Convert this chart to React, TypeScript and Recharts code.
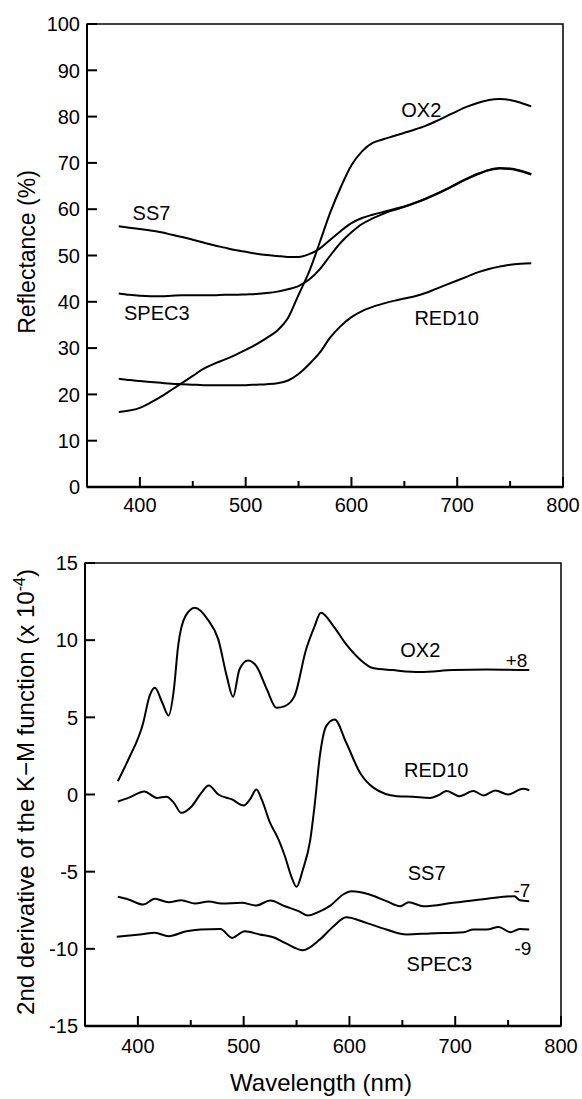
import React from 'react';
import { LineChart, Line, XAxis, YAxis, ReferenceArea, ReferenceDot } from 'recharts';

const FONT = "'Liberation Sans', Arial, Helvetica, sans-serif";

// Top panel: reflectance (%), read every 10 nm
const waveTop = [
  380, 390, 400, 410, 420, 430, 440, 450, 460, 470, 480, 490, 500, 510, 520, 530, 540, 550, 560, 570,
  580, 590, 600, 610, 620, 630, 640, 650, 660, 670, 680, 690, 700, 710, 720, 730, 740, 750, 760, 770,
];
const ox2Refl = [
  16.2, 16.5, 17.1, 18.2, 19.5, 21.0, 22.5, 24.0, 25.5, 26.6, 27.5, 28.5, 29.6, 30.8, 32.2, 33.8, 36.5, 41.5, 46.5, 52.8,
  59.3, 64.8, 69.5, 72.5, 74.3, 75.1, 75.8, 76.5, 77.2, 78.0, 79.0, 80.1, 81.2, 82.2, 83.0, 83.6, 83.8, 83.6, 83.0, 82.2,
];
const ss7Refl = [
  56.3, 56.0, 55.7, 55.4, 55.0, 54.5, 54.0, 53.4, 52.8, 52.2, 51.7, 51.2, 50.8, 50.4, 50.1, 49.9, 49.7, 49.7, 50.3, 51.5,
  53.4, 55.3, 57.0, 58.1, 58.8, 59.4, 60.0, 60.6, 61.4, 62.3, 63.3, 64.4, 65.6, 66.7, 67.7, 68.5, 68.9, 68.8, 68.3, 67.6,
];
const spec3Refl = [
  41.8, 41.5, 41.3, 41.2, 41.2, 41.3, 41.4, 41.4, 41.4, 41.4, 41.5, 41.5, 41.6, 41.7, 41.9, 42.2, 42.7, 43.4, 44.8, 47.0,
  50.0, 52.8, 55.0, 56.8, 58.0, 59.0, 59.8, 60.5, 61.3, 62.2, 63.2, 64.3, 65.5, 66.6, 67.6, 68.4, 68.8, 68.7, 68.2, 67.5,
];
const red10Refl = [
  23.4, 23.1, 22.9, 22.7, 22.5, 22.3, 22.2, 22.1, 22.0, 22.0, 22.0, 22.0, 22.0, 22.1, 22.2, 22.4, 23.0, 24.4, 26.5, 29.0,
  32.3, 34.8, 36.7, 38.0, 38.9, 39.6, 40.2, 40.7, 41.2, 41.9, 42.8, 43.7, 44.6, 45.5, 46.4, 47.1, 47.6, 48.0, 48.2, 48.3,
];

// Bottom panel: 2nd derivative of K-M (x 1e-4), offset curves, read at turning points
const ox2DerWave = [381, 391, 405, 411, 416, 423, 429, 434, 438, 445, 454, 466, 476, 484, 490, 496, 504, 512, 522, 531, 539, 548, 559, 567, 573, 585, 597, 610, 622, 641, 667, 698, 730, 770];
const ox2Der = [0.86, 2.27, 4.64, 6.37, 6.91, 5.96, 5.12, 6.8, 9.6, 11.56, 12.1, 11.34, 10.05, 7.67, 6.33, 8.1, 8.68, 8.32, 6.8, 5.62, 5.73, 6.37, 9.4, 10.9, 11.78, 10.9, 9.72, 8.75, 8.2, 8.06, 7.93, 8.06, 8.1, 8.06];

const red10DerWave = [381, 391, 406, 418, 427, 434, 441, 451, 460, 467, 476, 489, 500, 506, 512, 517, 525, 533, 539, 545, 550, 556, 563, 567, 572, 578, 586, 597, 610, 623, 645, 660, 676, 684, 692, 704, 717, 727, 738, 750, 764, 770];
const red10Der = [-0.45, -0.22, 0.2, -0.22, -0.15, -0.54, -1.19, -0.76, 0.11, 0.58, 0.0, -0.32, -0.71, -0.32, 0.32, -0.32, -1.84, -2.92, -4.0, -5.3, -5.98, -4.86, -2.92, -0.76, 2.48, 4.43, 4.86, 3.35, 1.41, 0.43, -0.11, -0.15, -0.22, -0.05, 0.22, -0.11, 0.22, -0.06, 0.26, 0.0, 0.37, 0.28];

const ss7DerWave = [381, 391, 405, 416, 429, 441, 454, 467, 479, 498, 512, 525, 539, 552, 561, 571, 582, 594, 602, 619, 635, 648, 656, 670, 698, 730, 756, 761, 770];
const ss7Der = [-6.63, -6.8, -7.13, -6.76, -6.98, -6.85, -7.06, -6.93, -7.06, -7.02, -7.19, -6.87, -7.24, -7.56, -7.84, -7.6, -7.2, -6.48, -6.27, -6.48, -6.91, -7.24, -6.98, -7.24, -7.02, -6.76, -6.59, -6.85, -6.91];

const spec3DerWave = [380, 402, 416, 429, 446, 459, 478, 489, 501, 515, 528, 540, 556, 572, 585, 597, 616, 635, 654, 676, 708, 717, 730, 741, 752, 761, 770];
const spec3Der = [-9.22, -9.07, -8.96, -9.18, -8.86, -8.75, -8.71, -9.29, -8.86, -9.07, -9.25, -9.65, -10.09, -9.4, -8.53, -7.95, -8.32, -8.75, -9.07, -9.0, -8.92, -8.75, -8.75, -8.58, -8.92, -8.71, -8.75];

const xTicks = [400, 450, 500, 550, 600, 650, 700, 750, 800];
const reflTicks = [0, 10, 20, 30, 40, 50, 60, 70, 80, 90, 100];
const derTicks = [-15, -10, -5, 0, 5, 10, 15];

// curve names placed in data coordinates
const topNotes = [
  { text: 'OX2', x: 666, y: 81.5 },
  { text: 'SS7', x: 411, y: 59.2 },
  { text: 'SPEC3', x: 416, y: 37.7 },
  { text: 'RED10', x: 690, y: 36.6 },
];
const bottomNotes = [
  { text: 'OX2', x: 667, y: 9.4 },
  { text: '+8', x: 758, y: 8.7 },
  { text: 'RED10', x: 682, y: 1.6 },
  { text: 'SS7', x: 673, y: -5.1 },
  { text: '-7', x: 763, y: -6.2 },
  { text: 'SPEC3', x: 685, y: -11.0 },
  { text: '-9', x: 764, y: -9.95 },
];

const pts = (xs: number[], ys: number[]) => xs.map((x, i) => ({ x, y: ys[i] }));

function XTick(props: any) {
  const { x, y, payload, gap } = props;
  const major = payload.value % 100 === 0;
  return (
    <g>
      <line x1={x} y1={y} x2={x} y2={y - (major ? 10 : 6)} stroke="#000" strokeWidth={2} />
      {major && (
        <text x={x} y={y + gap} textAnchor="middle" fontSize={20} fontFamily={FONT} fill="#000">
          {payload.value}
        </text>
      )}
    </g>
  );
}

function YTick(props: any) {
  const { x, y, payload } = props;
  return (
    <g>
      <line x1={x} y1={y} x2={x + 10} y2={y} stroke="#000" strokeWidth={2} />
      <text x={x - 7} y={y} dy="0.36em" textAnchor="end" fontSize={20} fontFamily={FONT} fill="#000">
        {payload.value}
      </text>
    </g>
  );
}

const lineProps = {
  type: 'monotone' as const,
  dataKey: 'y',
  stroke: '#000',
  strokeWidth: 2,
  dot: false,
  activeDot: false,
  isAnimationActive: false,
};

function notes(list: { text: string; x: number; y: number }[], size: number) {
  return list.map((n) => (
    <ReferenceDot
      key={n.text + n.x}
      x={n.x}
      y={n.y}
      r={0}
      fill="none"
      stroke="none"
      label={{ value: n.text, position: 'center', fontSize: n.text.length <= 2 ? 19 : size, fontFamily: FONT, fill: '#000' }}
    />
  ));
}

function ReflectancePanel() {
  return (
    <LineChart width={582} height={545} margin={{ top: 24, right: 19, bottom: 18, left: 27 }}>
      <XAxis
        dataKey="x"
        type="number"
        domain={[350, 800]}
        ticks={xTicks}
        interval={0}
        tickSize={0}
        tickMargin={0}
        tickLine={false}
        height={40}
        axisLine={{ stroke: '#000', strokeWidth: 2.5 }}
        tick={<XTick gap={25} />}
      />
      <YAxis
        type="number"
        domain={[0, 100]}
        ticks={reflTicks}
        interval={0}
        tickSize={0}
        tickMargin={0}
        tickLine={false}
        width={60}
        axisLine={{ stroke: '#000', strokeWidth: 2 }}
        tick={<YTick />}
        label={{
          content: () => (
            <text x={35} y={252} transform="rotate(-90 35 252)" textAnchor="middle" fontSize={23} fontFamily={FONT} fill="#000">
              Reflectance (%)
            </text>
          ),
        }}
      />
      <ReferenceArea x1={350} x2={800} y1={0} y2={100} fill="none" stroke="#000" strokeWidth={1.5} />
      <Line {...lineProps} data={pts(waveTop, ox2Refl)} />
      <Line {...lineProps} data={pts(waveTop, ss7Refl)} />
      <Line {...lineProps} data={pts(waveTop, spec3Refl)} />
      <Line {...lineProps} data={pts(waveTop, red10Refl)} />
      {notes(topNotes, 20)}
    </LineChart>
  );
}

function DerivativePanel() {
  return (
    <LineChart width={582} height={554} margin={{ top: 18, right: 21, bottom: 33, left: 25 }}>
      <XAxis
        dataKey="x"
        type="number"
        domain={[350, 800]}
        ticks={xTicks}
        interval={0}
        tickSize={0}
        tickMargin={0}
        tickLine={false}
        height={40}
        axisLine={{ stroke: '#000', strokeWidth: 2.5 }}
        tick={<XTick gap={27} />}
        label={{
          content: () => (
            <text x={321} y={546} textAnchor="middle" fontSize={24} fontFamily={FONT} fill="#000">
              Wavelength (nm)
            </text>
          ),
        }}
      />
      <YAxis
        type="number"
        domain={[-15, 15]}
        ticks={derTicks}
        interval={0}
        tickSize={0}
        tickMargin={0}
        tickLine={false}
        width={60}
        axisLine={{ stroke: '#000', strokeWidth: 2 }}
        tick={<YTick />}
        label={{
          content: () => (
            <text x={34} y={247} transform="rotate(-90 34 247)" textAnchor="middle" fontSize={24} fontFamily={FONT} fill="#000">
              2nd derivative of the K−M function (x 10
              <tspan fontSize={16} dy={-9}>-4</tspan>
              <tspan dy={9}>)</tspan>
            </text>
          ),
        }}
      />
      <ReferenceArea x1={350} x2={800} y1={-15} y2={15} fill="none" stroke="#000" strokeWidth={1.5} />
      <Line {...lineProps} data={pts(ox2DerWave, ox2Der)} />
      <Line {...lineProps} data={pts(red10DerWave, red10Der)} />
      <Line {...lineProps} data={pts(ss7DerWave, ss7Der)} />
      <Line {...lineProps} data={pts(spec3DerWave, spec3Der)} />
      {notes(bottomNotes, 20)}
    </LineChart>
  );
}

export default function App() {
  return (
    <div style={{ position: 'absolute', left: 0, top: 0, width: 582, height: 1099, background: '#fff' }}>
      <div style={{ position: 'absolute', left: 0, top: 0 }}>
        <ReflectancePanel />
      </div>
      <div style={{ position: 'absolute', left: 0, top: 545 }}>
        <DerivativePanel />
      </div>
    </div>
  );
}
